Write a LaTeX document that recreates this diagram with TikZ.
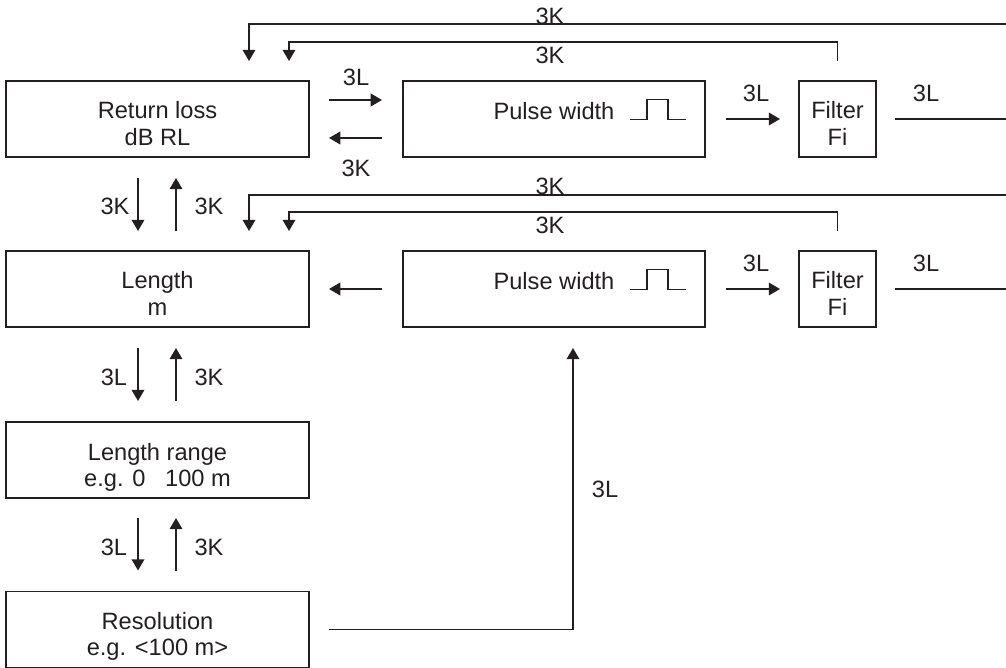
\documentclass[tikz,border=0pt]{standalone}
\usepackage{fontspec}
\setmainfont{Liberation Sans}
\usetikzlibrary{arrows.meta,calc}
\definecolor{ink}{RGB}{35,31,32}

\begin{document}
\begin{tikzpicture}[x=0.025cm, y=-0.025cm, color=ink, line width=1.2pt,
    font=\fontsize{16.8}{18.5}\selectfont,
    >={Triangle[length=8pt,width=9pt]},
    block/.style={draw, line width=1.4pt, align=center, inner sep=0pt,
      text height=37pt, text depth=0pt, minimum height=1.9cm},
    lbl/.style={inner sep=0pt}]
  \useasboundingbox (0,0) rectangle (1006,668);

  % Bloques de la izquierda
  \node[block, minimum width=7.575cm] (rl) at (157.5,119) {Return loss\\dB RL};
  \node[block, minimum width=7.575cm] (len) at (157.5,289) {Length\\m};
  \node[block, minimum width=7.575cm] (rng) at (157.5,460) {Length range\\e.g. 0~~~100 m};
  \node[block, minimum width=7.575cm] (res) at (157.5,629.5) {Resolution\\e.g. <100 m>};

  % Pulse width y filtro (arriba)
  \node[block, minimum width=7.55cm] (pw1) at (554,119) {};
  \node (pw1t) at ($(pw1)+(0,-7.5)$) {Pulse width};
  \draw ($(pw1)+(76,0.5)$) -- ++(17,0) -- ++(0,-20) -- ++(21,0) -- ++(0,20) -- ++(18,0);
  \node[block, minimum width=1.925cm] (fi1) at (837.5,119) {Filter\\Fi};

  % Pulse width y filtro (medio)
  \node[block, minimum width=7.55cm] (pw2) at (554,289) {};
  \node (pw2t) at ($(pw2)+(0,-7.5)$) {Pulse width};
  \draw ($(pw2)+(76,0.5)$) -- ++(17,0) -- ++(0,-20) -- ++(21,0) -- ++(0,20) -- ++(18,0);
  \node[block, minimum width=1.925cm] (fi2) at (837.5,289) {Filter\\Fi};

  % Flechas fila de arriba
  \draw[->] ($(rl.east)+(19,-19)$) -- ($(pw1.west)+(-20,-19)$);
  \draw[->] ($(pw1.west)+(-20,19)$) -- ($(rl.east)+(19,19)$);
  \node[lbl] (a1) at (356,77) {3L};
  \node[lbl] (a2) at (356,168) {3K};
  \draw[->] ($(pw1.east)+(20,0)$) -- ($(fi1.west)+(-18,0)$);
  \node[lbl] (a3) at (756,93.5) {3L};
  \coordinate (o1) at (1006,119);
  \draw ($(fi1.east)+(18,0)$) -- (o1);
  \node[lbl] (a4) at (926,93.5) {3L};

  % Realimentacion de arriba
  \coordinate (e1) at (1006,24);
  \draw[->] (e1) -| ($(rl.north)+(91.5,-19)$);
  \draw[->] ($(fi1.north)+(0,-19)$) -- ++(0,-19) -| ($(rl.north)+(131.5,-19)$);
  \node[lbl] (k1) at (550,16.5) {3K};
  \node[lbl] (k2) at (550,55) {3K};

  % Flechas fila del medio
  \draw[->] ($(pw2.west)+(-20,0)$) -- ($(len.east)+(19,0)$);
  \draw[->] ($(pw2.east)+(20,0)$) -- ($(fi2.west)+(-18,0)$);
  \node[lbl] (b3) at (756,263.5) {3L};
  \coordinate (o2) at (1006,289);
  \draw ($(fi2.east)+(18,0)$) -- (o2);
  \node[lbl] (b4) at (926,263.5) {3L};

  % Realimentacion del medio
  \coordinate (e2) at (1006,195);
  \draw[->] (e2) -| ($(len.north)+(91.5,-19)$);
  \draw[->] ($(fi2.north)+(0,-19)$) -- ++(0,-19) -| ($(len.north)+(131.5,-19)$);
  \node[lbl] (k3) at (550,186.5) {3K};
  \node[lbl] (k4) at (550,225) {3K};

  % Flechas verticales
  \draw[->] ($(rl.south)+(-19.5,20)$) -- ($(len.north)+(-19.5,-19)$);
  \draw[->] ($(len.north)+(18.5,-19)$) -- ($(rl.south)+(18.5,20)$);
  \node[lbl] (v1) at (115,206) {3K};
  \node[lbl] (v2) at (209,206) {3K};
  \draw[->] ($(len.south)+(-19.5,20)$) -- ($(rng.north)+(-19.5,-20)$);
  \draw[->] ($(rng.north)+(18.5,-20)$) -- ($(len.south)+(18.5,20)$);
  \node[lbl] (v3) at (114,377) {3L};
  \node[lbl] (v4) at (209,377) {3K};
  \draw[->] ($(rng.south)+(-19.5,19)$) -- ($(res.north)+(-19.5,-20)$);
  \draw[->] ($(res.north)+(18.5,-20)$) -- ($(rng.south)+(18.5,19)$);
  \node[lbl] (v5) at (114,547) {3L};
  \node[lbl] (v6) at (209,547) {3K};

  % Resolution hacia pulse width
  \draw[->] ($(res.east)+(19,0)$) -| ($(pw2.south)+(19,20)$);
  \node[lbl] (r1) at (605,489) {3L};

\end{tikzpicture}
\end{document}
